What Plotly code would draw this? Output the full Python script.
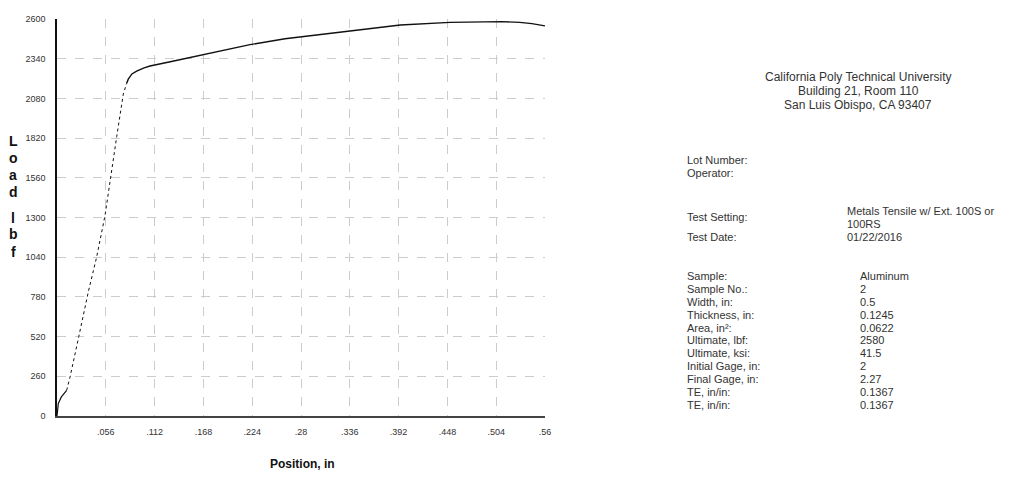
import plotly.graph_objects as go

# ---- data ----
toe_x = [0.0, 0.0006, 0.0015, 0.005, 0.0111]
toe_load = [0, 40, 82, 125, 168]

elastic_x = [0.0111, 0.0149, 0.025, 0.036, 0.0455, 0.0551, 0.0685, 0.0761, 0.0800]
elastic_load = [168, 254, 520, 815, 1041, 1313, 1829, 2109, 2180]

plastic_x = [0.0800, 0.0818, 0.086, 0.0914, 0.100, 0.1067, 0.130, 0.164, 0.2215,
             0.2617, 0.325, 0.394, 0.451, 0.510, 0.531, 0.545, 0.56]
plastic_load = [2180, 2206, 2240, 2259, 2280, 2292, 2320, 2360, 2432,
                2471, 2516, 2561, 2578, 2583, 2578, 2570, 2555]

x_ticks = [0.056, 0.112, 0.168, 0.224, 0.28, 0.336, 0.392, 0.448, 0.504, 0.56]
x_tick_text = [".056", ".112", ".168", ".224", ".28", ".336", ".392", ".448", ".504", ".56"]
y_ticks = [0, 260, 520, 780, 1040, 1300, 1560, 1820, 2080, 2340, 2600]

header_lines = ["California Poly Technical University", "Building 21, Room 110",
                "San Luis Obispo, CA 93407"]
info_labels = ["Lot Number:", "Operator:"]
setting_labels = ["Test Setting:", "Test Date:"]
setting_values = ["Metals Tensile w/ Ext. 100S or", "100RS", "01/22/2016"]
sample_labels = ["Sample:", "Sample No.:", "Width, in:", "Thickness, in:", "Area, in²:",
                 "Ultimate, lbf:", "Ultimate, ksi:", "Initial Gage, in:", "Final Gage, in:",
                 "TE, in/in:", "TE, in/in:"]
sample_values = ["Aluminum", "2", "0.5", "0.1245", "0.0622", "2580", "41.5", "2", "2.27",
                 "0.1367", "0.1367"]

# ---- layout geometry (page body has an 8px margin) ----
OFF = 8
W, H = 1013 - OFF, 477 - OFF
L, R, T, B = 57 - OFF, 545 - OFF, 14 - OFF, 416 - OFF


def px(xp, yp):
    # reference-pixel -> paper coords
    xp -= OFF
    yp -= OFF
    return (xp - L) / (R - L), (B - yp) / (B - T)


fig = go.Figure()
fig.add_trace(go.Scatter(x=toe_x, y=toe_load, mode="lines",
                         line=dict(color="#111111", width=1.2), showlegend=False))
fig.add_trace(go.Scatter(x=elastic_x, y=elastic_load, mode="lines",
                         line=dict(color="#111111", width=1.0, dash="dot"), showlegend=False))
fig.add_trace(go.Scatter(x=plastic_x, y=plastic_load, mode="lines",
                         line=dict(color="#111111", width=1.4), showlegend=False))

tfont = dict(family="Arial, Liberation Sans, sans-serif", size=9, color="#333333")
fig.update_xaxes(range=[0, 0.56], tickvals=x_ticks, ticktext=x_tick_text,
                 showgrid=True, gridcolor="#cccccc", griddash="dash", gridwidth=1,
                 showline=True, linecolor="#444444", linewidth=1.5, zeroline=False,
                 ticks="", tickfont=tfont, ticklabelstandoff=6)
fig.update_yaxes(range=[0, 2600], tickvals=y_ticks,
                 showgrid=True, gridcolor="#cccccc", griddash="dash", gridwidth=1,
                 showline=True, linecolor="#111111", linewidth=1.5, zeroline=False,
                 ticks="", tickfont=tfont, ticklabelstandoff=8)

ann = []
afont = "Arial, Liberation Sans, sans-serif"
for ch, yp in zip(["L", "o", "a", "d", "l", "b", "f"], [138, 155, 172, 189, 215, 232, 250]):
    x0, y0 = px(13, yp)
    ann.append(dict(x=x0, y=y0, xref="paper", yref="paper", text="<b>%s</b>" % ch,
                    showarrow=False, xanchor="center", yanchor="middle",
                    font=dict(family=afont, size=14, color="#111111")))
x0, y0 = px(302, 465)
ann.append(dict(x=x0, y=y0, xref="paper", yref="paper", text="<b>Position, in</b>",
                showarrow=False, xanchor="center", yanchor="middle",
                font=dict(family=afont, size=12, color="#111111")))

for txt, yp in zip(header_lines, [73, 87, 101]):
    x0, y0 = px(858, yp)
    ann.append(dict(x=x0, y=y0, xref="paper", yref="paper", text=txt, showarrow=False,
                    xanchor="center", yanchor="middle",
                    font=dict(family=afont, size=12, color="#333333")))

sfont = dict(family=afont, size=11, color="#333333")
for txt, yp in zip(info_labels, [157, 170]):
    x0, y0 = px(685, yp)
    ann.append(dict(x=x0, y=y0, xref="paper", yref="paper", text=txt, showarrow=False,
                    xanchor="left", yanchor="middle", font=sfont))
for txt, yp in zip(setting_labels, [214, 235]):
    x0, y0 = px(685, yp)
    ann.append(dict(x=x0, y=y0, xref="paper", yref="paper", text=txt, showarrow=False,
                    xanchor="left", yanchor="middle", font=sfont))
for txt, yp in zip(setting_values, [208, 222, 235]):
    x0, y0 = px(845, yp)
    ann.append(dict(x=x0, y=y0, xref="paper", yref="paper", text=txt, showarrow=False,
                    xanchor="left", yanchor="middle", font=sfont))
for i, (lab, val) in enumerate(zip(sample_labels, sample_values)):
    yp = 274 + i * 13.1
    x0, y0 = px(685, yp)
    ann.append(dict(x=x0, y=y0, xref="paper", yref="paper", text=lab, showarrow=False,
                    xanchor="left", yanchor="middle", font=sfont))
    x1, _ = px(858, yp)
    ann.append(dict(x=x1, y=y0, xref="paper", yref="paper", text=val, showarrow=False,
                    xanchor="left", yanchor="middle", font=sfont))

fig.update_layout(width=W, height=H, margin=dict(l=L, r=W - R, t=T, b=H - B),
                  paper_bgcolor="white", plot_bgcolor="white", annotations=ann,
                  showlegend=False)
fig.write_html("out.html")
